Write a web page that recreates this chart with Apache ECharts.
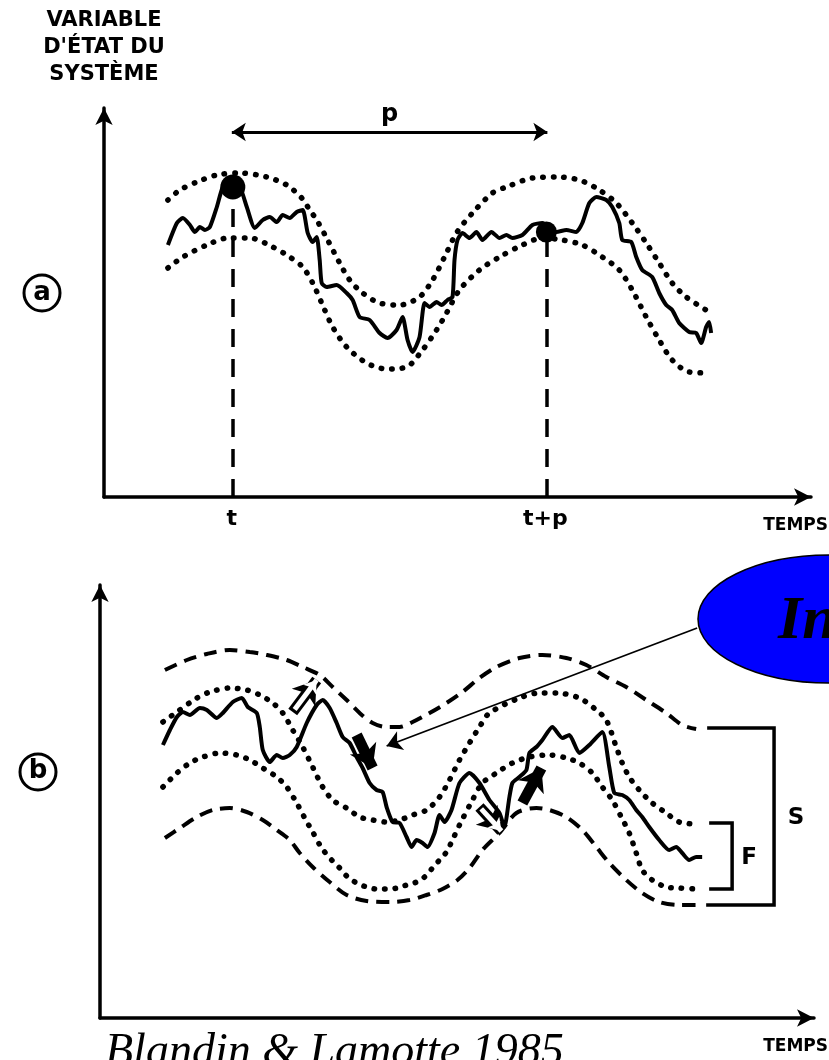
<!DOCTYPE html>
<html>
<head>
<meta charset="utf-8">
<script src="https://cdn.jsdelivr.net/npm/echarts@6/dist/echarts.min.js"></script>
<style>
  html, body { margin: 0; padding: 0; background: #fff; }
  #chart { width: 829px; height: 1060px; }
</style>
</head>
<body>
<div id="chart"></div>
<script>
  // panel (a): time / state values
  var aUpperBand = [[68,297],[80,307],[97,315],[117,322],[140,324],[167,320],[187,312],[202,299],[210,287],[217,277],[228,257],[240,234],[250,217],[263,204],[280,194],[300,192],[320,200],[333,217],[345,240],[357,264],[373,284],[393,304],[407,310],[433,319],[457,320],[480,317],[500,307],[517,294],[533,274],[547,254],[560,234],[573,214],[587,200],[607,187]];
  var aLowerBand = [[68,229],[83,240],[107,252],[128,259],[150,259],[173,250],[190,240],[203,230],[213,214],[222,194],[233,170],[247,150],[267,134],[287,128],[307,130],[323,147],[337,167],[347,184],[360,207],[380,227],[400,240],[423,252],[443,259],[463,257],[483,252],[503,240],[520,227],[533,207],[547,180],[560,157],[573,137],[590,125],[610,124]];
  var aSignal = [[68,252],[77,274],[83,279],[90,272],[95,265],[100,270],[105,267],[110,270],[117,290],[123,310],[130,315],[140,310],[147,290],[155,269],[163,277],[170,280],[177,275],[183,282],[190,279],[197,285],[203,287],[208,264],[213,255],[217,260],[220,237],[222,214],[227,210],[237,212],[247,204],[253,197],[260,180],[270,177],[280,164],[288,159],[297,167],[303,180],[308,157],[313,145],[320,160],[325,194],[330,190],[337,195],[342,192],[348,197],[353,200],[355,237],[358,257],[363,264],[370,259],[377,265],[383,257],[392,265],[400,259],[407,262],[413,259],[423,262],[433,272],[443,274],[457,265],[467,267],[477,265],[483,274],[490,294],[497,300],[507,297],[513,290],[520,274],[523,257],[532,255],[537,240],[543,227],[553,220],[560,204],[567,192],[573,187],[580,174],[590,165],[597,164],[602,154],[607,170],[610,175],[612,164]];
  var aPeaks = [[133,310],[447,265]];
  var aTickValues = [132, 446];
  var aTickLabels = ['t', 't+p'];
  var aPeriod = [[132,365],[448,365]];

  // panel (b)
  var bOuterUpper = [[65,348],[87,358],[107,364],[130,368],[150,366],[167,363],[187,358],[203,351],[220,343],[233,331],[247,318],[260,305],[273,295],[287,291],[300,291],[313,296],[330,305],[347,315],[363,326],[380,340],[397,351],[420,360],[443,363],[467,360],[487,353],[507,341],[527,331],[547,318],[567,305],[583,293],[597,289]];
  var bInnerUpper = [[63,296],[77,306],[97,320],[110,326],[130,330],[147,328],[160,323],[173,315],[183,305],[193,288],[203,271],[213,251],[223,231],[233,218],[247,210],[260,201],[273,198],[287,196],[300,198],[313,203],[327,208],[340,221],[350,238],[360,258],[370,275],[380,291],[390,305],[420,320],[440,325],[457,325],[480,320],[497,308],[507,298],[517,271],[523,255],[530,241],[540,228],[553,215],[567,205],[580,196],[597,194]];
  var bInnerLower = [[63,231],[77,245],[90,255],[103,261],[120,265],[137,263],[150,258],[163,250],[177,241],[187,231],[197,215],[205,200],[213,186],[222,170],[232,158],[240,150],[248,141],[257,135],[267,131],[277,129],[287,129],[298,130],[307,133],[317,136],[325,141],[333,150],[340,158],[347,166],[352,176],[360,193],[373,218],[383,235],[397,245],[413,255],[430,261],[450,263],[467,260],[480,255],[493,245],[503,231],[513,218],[522,201],[530,185],[537,165],[543,148],[553,138],[567,131],[580,130],[597,129]];
  var bOuterLower = [[65,180],[80,190],[97,201],[113,208],[130,210],[147,206],[163,198],[177,188],[190,178],[200,165],[213,151],[230,136],[247,123],[267,117],[290,116],[310,118],[327,123],[343,129],[358,138],[370,150],[383,168],[400,185],[417,205],[437,210],[450,208],[467,201],[483,188],[497,171],[510,155],[527,138],[543,125],[560,116],[580,113],[600,113]];
  var bSignal = [[63,273],[70,288],[77,301],[83,306],[90,303],[100,310],[107,308],[117,300],[123,305],[133,316],[142,320],[148,311],[157,305],[160,291],[163,268],[170,256],[177,263],[183,260],[190,263],[197,271],[207,295],[217,313],[223,318],[230,310],[237,295],[243,281],[250,275],[257,261],[263,250],[270,235],[277,228],[283,226],[287,211],[293,196],[300,195],[307,181],[312,171],[317,178],[323,175],[328,171],[335,185],[340,203],[345,196],[352,208],[360,235],[370,245],[380,235],[390,218],[400,205],[405,191],[410,221],[413,235],[420,241],[427,248],[430,265],[437,271],[443,278],[453,291],[463,280],[470,283],[480,265],[490,273],[503,286],[510,251],[515,225],[523,223],[530,218],[537,208],[543,201],[550,191],[560,178],[570,168],[577,171],[583,165],[590,158],[597,161],[603,161]];
  var bBracketS = [[608,290],[675,290],[675,113],[607,113]];
  var bBracketF = [[610,195],[633,195],[633,129],[610,129]];
  var bBracketNames = ['S', 'F'];
  var bBracketLabelAt = [[697,200],[650,160]];
  var bSolidArrows = [[[257,283],[273,250]], [[423,215],[442,250]]];
  var bHollowArrows = [[[193,306],[217,338]], [[380,211],[402,187]]];
  var bPointer = [[598,390],[287,272]];

  var ink = '#000';
  var dotted = { color: ink, width: 5.5, type: [0.5, 10], cap: 'round', opacity: 1 };
  var dashed = { color: ink, width: 4, type: [13, 8], opacity: 1 };
  var solid = { color: ink, width: 4, join: 'round', opacity: 1 };
  var labelFont = { fontFamily: 'DejaVu Sans', fontWeight: 'bold', color: ink };
  var axisStyle = { onZero: false, symbol: ['none', 'arrow'], symbolSize: [13, 17], lineStyle: { color: ink, width: 3.5 } };
  var timeName = {
    fontSize: 17, fontFamily: 'DejaVu Sans', fontWeight: 'bold', color: ink,
    align: 'right', verticalAlign: 'top', padding: [20, 0, 0, 0]
  };

  function curve(data, style, idx, smooth) {
    return {
      type: 'line', xAxisIndex: idx, yAxisIndex: idx, data: data,
      showSymbol: false, smooth: smooth, lineStyle: style, silent: true
    };
  }

  var chart = echarts.init(document.getElementById('chart'));

  var option = {
    backgroundColor: '#fff',
    animation: false,
    grid: [
      { left: 104, top: 108, width: 708, height: 389 },
      { left: 100, top: 585, width: 715, height: 433 }
    ],
    xAxis: [
      {
        gridIndex: 0, type: 'value', min: 4, max: 712,
        name: 'TEMPS', nameLocation: 'end', nameGap: 17, nameTextStyle: timeName,
        axisLine: axisStyle,
        axisTick: { show: false },
        splitLine: { show: false },
        axisLabel: {
          show: true, customValues: aTickValues, margin: 11,
          fontSize: 22, fontFamily: 'DejaVu Sans', fontWeight: 'bold', color: ink,
          formatter: function (v) { return aTickLabels[aTickValues.indexOf(v)] || ''; }
        }
      },
      {
        gridIndex: 1, type: 'value', min: 0, max: 715,
        name: 'TEMPS', nameLocation: 'end', nameGap: 14, nameTextStyle: timeName,
        axisLine: axisStyle,
        axisTick: { show: false },
        splitLine: { show: false },
        axisLabel: { show: false }
      }
    ],
    yAxis: [
      {
        gridIndex: 0, type: 'value', min: 0, max: 389,
        name: "VARIABLE\nD'ÉTAT DU\nSYSTÈME", nameLocation: 'end', nameGap: 20,
        nameTextStyle: Object.assign({ fontSize: 21, lineHeight: 27, align: 'center', verticalAlign: 'bottom' }, labelFont),
        axisLine: axisStyle,
        axisTick: { show: false }, splitLine: { show: false }, axisLabel: { show: false }
      },
      {
        gridIndex: 1, type: 'value', min: 0, max: 433,
        axisLine: axisStyle,
        axisTick: { show: false }, splitLine: { show: false }, axisLabel: { show: false }
      }
    ],
    graphic: [
      { type: 'circle', shape: { cx: 42, cy: 293, r: 18 }, style: { fill: 'none', stroke: ink, lineWidth: 3 } },
      { type: 'text', x: 42, y: 293, style: { text: 'a', fontSize: 26, fontWeight: 'bold', fontFamily: 'DejaVu Sans', fill: ink, align: 'center', verticalAlign: 'middle' } },
      { type: 'circle', shape: { cx: 38, cy: 772, r: 18 }, style: { fill: 'none', stroke: ink, lineWidth: 3 } },
      { type: 'text', x: 38, y: 771, style: { text: 'b', fontSize: 26, fontWeight: 'bold', fontFamily: 'DejaVu Sans', fill: ink, align: 'center', verticalAlign: 'middle' } },
      { type: 'ellipse', z: 100, shape: { cx: 829, cy: 619, rx: 131, ry: 64 }, style: { fill: '#0000ff', stroke: ink, lineWidth: 1.5 } },
      { type: 'text', z: 101, x: 778, y: 622, style: { text: 'In', fontSize: 62, fontStyle: 'italic', fontWeight: 'bold', fontFamily: 'Liberation Serif', fill: ink, align: 'left', verticalAlign: 'middle' } },
      { type: 'text', x: 105, y: 1053, style: { text: 'Blandin & Lamotte 1985', fontSize: 46, fontStyle: 'italic', fontFamily: 'Liberation Serif', fill: ink, align: 'left', verticalAlign: 'middle' } }
    ],
    series: [
      curve(aUpperBand, dotted, 0, 0.3),
      curve(aLowerBand, dotted, 0, 0.3),
      curve(aSignal, solid, 0, 0.2),
      {
        type: 'lines', coordinateSystem: 'cartesian2d', xAxisIndex: 0, yAxisIndex: 0, silent: true,
        lineStyle: { color: ink, width: 3.5, type: [18, 12], opacity: 1 },
        data: aPeaks.map(function (p) { return { coords: [[p[0], 0], p] }; })
      },
      {
        type: 'scatter', xAxisIndex: 0, yAxisIndex: 0, data: aPeaks, silent: true, z: 5,
        symbolSize: function (v, params) { return params.dataIndex === 0 ? 25 : 21; },
        itemStyle: { color: ink, opacity: 1 }
      },
      {
        type: 'lines', coordinateSystem: 'cartesian2d', xAxisIndex: 0, yAxisIndex: 0, silent: true,
        symbol: ['arrow', 'arrow'], symbolSize: 14,
        lineStyle: { color: ink, width: 3, opacity: 1 },
        label: Object.assign({ show: true, position: 'middle', formatter: 'p', fontSize: 24, distance: 5 }, labelFont),
        data: [{ coords: aPeriod }]
      },
      curve(bOuterUpper, dashed, 1, 0.3),
      curve(bInnerUpper, dotted, 1, 0.3),
      curve(bInnerLower, dotted, 1, 0.3),
      curve(bOuterLower, dashed, 1, 0.3),
      curve(bSignal, solid, 1, 0.2),
      {
        type: 'lines', coordinateSystem: 'cartesian2d', xAxisIndex: 1, yAxisIndex: 1, silent: true,
        polyline: true, lineStyle: { color: ink, width: 3.5, opacity: 1 },
        data: [{ coords: bBracketS }, { coords: bBracketF }]
      },
      {
        type: 'scatter', xAxisIndex: 1, yAxisIndex: 1, symbolSize: 0, silent: true,
        itemStyle: { opacity: 1 },
        data: bBracketLabelAt.map(function (p, i) { return { name: bBracketNames[i], value: p }; }),
        label: Object.assign({ show: true, position: 'inside', formatter: '{b}', fontSize: 23, opacity: 1 }, labelFont)
      },
      {
        type: 'lines', coordinateSystem: 'cartesian2d', xAxisIndex: 1, yAxisIndex: 1, silent: true, z: 4,
        symbol: ['none', 'arrow'], symbolSize: 22,
        lineStyle: { color: ink, width: 11, cap: 'butt', opacity: 1 },
        data: bSolidArrows.concat(bHollowArrows).map(function (c) { return { coords: c }; })
      },
      {
        type: 'lines', coordinateSystem: 'cartesian2d', xAxisIndex: 1, yAxisIndex: 1, silent: true, z: 5,
        symbol: ['none', 'arrow'], symbolSize: 12,
        lineStyle: { color: '#fff', width: 5, cap: 'butt', opacity: 1 },
        data: bHollowArrows.map(function (c) { return { coords: [[c[0][0] + (c[1][0] - c[0][0]) * 0.08, c[0][1] + (c[1][1] - c[0][1]) * 0.08], c[1]] }; })
      },
      {
        type: 'lines', coordinateSystem: 'cartesian2d', xAxisIndex: 1, yAxisIndex: 1, silent: true, z: 6,
        symbol: ['none', 'arrow'], symbolSize: 15,
        lineStyle: { color: ink, width: 1.8, opacity: 1 },
        data: [{ coords: bPointer }]
      }
    ]
  };

  chart.setOption(option);
  window.addEventListener('resize', function () { chart.resize(); });
</script>
</body>
</html>
